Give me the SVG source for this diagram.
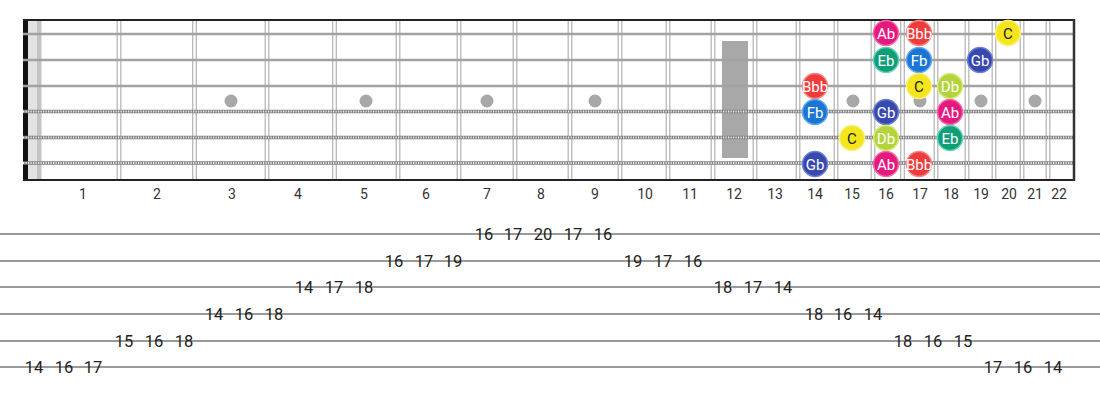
<svg xmlns="http://www.w3.org/2000/svg" width="1100" height="400" viewBox="0 0 1100 400">
<style>
.fret{stroke:#b8b8b8;stroke-width:1.3}
.plain{stroke:#a2a2a2;stroke-width:2.6}
.woundBase{stroke:#808080;stroke-width:3.6}
.woundTop{stroke:#ececec;stroke-width:1.8;stroke-dasharray:1.2 1.3}
.dot{fill:#a8a8a8}
.fn{font-family:Roboto,"Liberation Sans",sans-serif;font-size:14px;fill:#333;text-anchor:middle}
.nt{font-family:Roboto,"Liberation Sans",sans-serif;font-size:15px;fill:#fff;text-anchor:middle}
.ntd{fill:#222}
.tabline{stroke:#9a9a9a;stroke-width:2}
.tab{font-family:Roboto,"Liberation Sans",sans-serif;font-size:16.5px;fill:#222;text-anchor:middle}
.Ab{fill:#e6197f;stroke:#f26aa8;stroke-width:1.5}
.Bbb{fill:#ef3b3b;stroke:#f78585;stroke-width:1.5}
.Eb{fill:#0e9e78;stroke:#5fd3b2;stroke-width:1.5}
.Fb{fill:#1b75d3;stroke:#63a8ef;stroke-width:1.5}
.Gb{fill:#3749ae;stroke:#6d80d4;stroke-width:1.5}
.C{fill:#f4e51c;stroke:#faef7a;stroke-width:1.5}
.Db{fill:#b3d43a;stroke:#d6ec82;stroke-width:1.5}
</style>
<rect width="1100" height="400" fill="#fff"/>
<g id="fretboard">
<rect x="28" y="20" width="9" height="160" fill="#e2e2e2"/>
<rect x="37" y="20" width="4.5" height="160" fill="#c4c4c4"/>
<rect x="23" y="19" width="5" height="162" fill="#111"/>
<rect x="722" y="41" width="26" height="117" fill="#a8a8a8"/>
<g id="frets">
<line class="fret" x1="117.2" y1="20" x2="117.2" y2="180"/><line class="fret" x1="120.8" y1="20" x2="120.8" y2="180"/>
<line class="fret" x1="192.7" y1="20" x2="192.7" y2="180"/><line class="fret" x1="196.3" y1="20" x2="196.3" y2="180"/>
<line class="fret" x1="265.2" y1="20" x2="265.2" y2="180"/><line class="fret" x1="268.8" y1="20" x2="268.8" y2="180"/>
<line class="fret" x1="332.7" y1="20" x2="332.7" y2="180"/><line class="fret" x1="336.3" y1="20" x2="336.3" y2="180"/>
<line class="fret" x1="396.2" y1="20" x2="396.2" y2="180"/><line class="fret" x1="399.8" y1="20" x2="399.8" y2="180"/>
<line class="fret" x1="457.2" y1="20" x2="457.2" y2="180"/><line class="fret" x1="460.8" y1="20" x2="460.8" y2="180"/>
<line class="fret" x1="513.2" y1="20" x2="513.2" y2="180"/><line class="fret" x1="516.8" y1="20" x2="516.8" y2="180"/>
<line class="fret" x1="568.2" y1="20" x2="568.2" y2="180"/><line class="fret" x1="571.8" y1="20" x2="571.8" y2="180"/>
<line class="fret" x1="618.2" y1="20" x2="618.2" y2="180"/><line class="fret" x1="621.8" y1="20" x2="621.8" y2="180"/>
<line class="fret" x1="666.2" y1="20" x2="666.2" y2="180"/><line class="fret" x1="669.8" y1="20" x2="669.8" y2="180"/>
<line class="fret" x1="711.2" y1="20" x2="711.2" y2="180"/><line class="fret" x1="714.8" y1="20" x2="714.8" y2="180"/>
<line class="fret" x1="753.2" y1="20" x2="753.2" y2="180"/><line class="fret" x1="756.8" y1="20" x2="756.8" y2="180"/>
<line class="fret" x1="796.2" y1="20" x2="796.2" y2="180"/><line class="fret" x1="799.8" y1="20" x2="799.8" y2="180"/>
<line class="fret" x1="834.2" y1="20" x2="834.2" y2="180"/><line class="fret" x1="837.8" y1="20" x2="837.8" y2="180"/>
<line class="fret" x1="871.2" y1="20" x2="871.2" y2="180"/><line class="fret" x1="874.8" y1="20" x2="874.8" y2="180"/>
<line class="fret" x1="900.7" y1="20" x2="900.7" y2="180"/><line class="fret" x1="904.3" y1="20" x2="904.3" y2="180"/>
<line class="fret" x1="934.2" y1="20" x2="934.2" y2="180"/><line class="fret" x1="937.8" y1="20" x2="937.8" y2="180"/>
<line class="fret" x1="965.2" y1="20" x2="965.2" y2="180"/><line class="fret" x1="968.8" y1="20" x2="968.8" y2="180"/>
<line class="fret" x1="992.2" y1="20" x2="992.2" y2="180"/><line class="fret" x1="995.8" y1="20" x2="995.8" y2="180"/>
<line class="fret" x1="1020.2" y1="20" x2="1020.2" y2="180"/><line class="fret" x1="1023.8" y1="20" x2="1023.8" y2="180"/>
<line class="fret" x1="1046.2" y1="20" x2="1046.2" y2="180"/><line class="fret" x1="1049.8" y1="20" x2="1049.8" y2="180"/>
</g>
<g id="markers">
<circle class="dot" cx="231" cy="101" r="6.5"/>
<circle class="dot" cx="366" cy="101" r="6.5"/>
<circle class="dot" cx="487" cy="101" r="6.5"/>
<circle class="dot" cx="595" cy="101" r="6.5"/>
<circle class="dot" cx="853" cy="101" r="6.5"/>
<circle class="dot" cx="920" cy="101" r="6.5"/>
<circle class="dot" cx="981" cy="101" r="6.5"/>
<circle class="dot" cx="1035" cy="101" r="6.5"/>
</g>
<g id="strings">
<line class="plain" x1="23" y1="34" x2="1074" y2="34"/>
<line class="plain" x1="23" y1="60" x2="1074" y2="60"/>
<line class="plain" x1="23" y1="86" x2="1074" y2="86"/>
<line class="woundBase" x1="23" y1="111.5" x2="1074" y2="111.5"/><line class="woundTop" x1="23" y1="111.5" x2="1074" y2="111.5"/>
<line class="woundBase" x1="23" y1="137.5" x2="1074" y2="137.5"/><line class="woundTop" x1="23" y1="137.5" x2="1074" y2="137.5"/>
<line class="woundBase" x1="23" y1="163" x2="1074" y2="163"/><line class="woundTop" x1="23" y1="163" x2="1074" y2="163"/>
</g>
<line x1="23" y1="20" x2="1075" y2="20" stroke="#222" stroke-width="2"/>
<line x1="23" y1="180" x2="1075" y2="180" stroke="#222" stroke-width="2"/>
<line x1="1074" y1="19" x2="1074" y2="181" stroke="#333" stroke-width="2.5"/>
</g>
<g id="fret-numbers">
<text class="fn" x="83" y="199">1</text><text class="fn" x="157" y="199">2</text><text class="fn" x="232" y="199">3</text><text class="fn" x="298" y="199">4</text><text class="fn" x="364" y="199">5</text><text class="fn" x="426" y="199">6</text><text class="fn" x="487" y="199">7</text><text class="fn" x="541" y="199">8</text><text class="fn" x="595" y="199">9</text><text class="fn" x="645" y="199">10</text><text class="fn" x="690" y="199">11</text><text class="fn" x="734" y="199">12</text><text class="fn" x="775" y="199">13</text><text class="fn" x="815" y="199">14</text><text class="fn" x="852" y="199">15</text><text class="fn" x="886" y="199">16</text><text class="fn" x="920" y="199">17</text><text class="fn" x="951" y="199">18</text><text class="fn" x="981" y="199">19</text><text class="fn" x="1009" y="199">20</text><text class="fn" x="1035" y="199">21</text><text class="fn" x="1059" y="199">22</text>
</g>
<g id="notes">
<g id="n1-16"><circle class="Ab" cx="886" cy="33" r="12.5"/><text class="nt" x="886" y="38.5">Ab</text></g>
<g id="n1-17"><circle class="Bbb" cx="919" cy="33" r="12.5"/><text class="nt" x="919" y="38.5">Bbb</text></g>
<g id="n1-20"><circle class="C" cx="1008" cy="33" r="12.5"/><text class="nt ntd" x="1008" y="38.5">C</text></g>
<g id="n2-16"><circle class="Eb" cx="886" cy="60" r="12.5"/><text class="nt" x="886" y="65.5">Eb</text></g>
<g id="n2-17"><circle class="Fb" cx="919" cy="60" r="12.5"/><text class="nt" x="919" y="65.5">Fb</text></g>
<g id="n2-19"><circle class="Gb" cx="980" cy="60" r="12.5"/><text class="nt" x="980" y="65.5">Gb</text></g>
<g id="n3-14"><circle class="Bbb" cx="815" cy="86" r="12.5"/><text class="nt" x="815" y="91.5">Bbb</text></g>
<g id="n3-17"><circle class="C" cx="919" cy="86" r="12.5"/><text class="nt ntd" x="919" y="91.5">C</text></g>
<g id="n3-18"><circle class="Db" cx="950" cy="86" r="12.5"/><text class="nt" x="950" y="91.5">Db</text></g>
<g id="n4-14"><circle class="Fb" cx="815" cy="112" r="12.5"/><text class="nt" x="815" y="117.5">Fb</text></g>
<g id="n4-16"><circle class="Gb" cx="886" cy="112" r="12.5"/><text class="nt" x="886" y="117.5">Gb</text></g>
<g id="n4-18"><circle class="Ab" cx="950" cy="112" r="12.5"/><text class="nt" x="950" y="117.5">Ab</text></g>
<g id="n5-15"><circle class="C" cx="852" cy="138" r="12.5"/><text class="nt ntd" x="852" y="143.5">C</text></g>
<g id="n5-16"><circle class="Db" cx="886" cy="138" r="12.5"/><text class="nt" x="886" y="143.5">Db</text></g>
<g id="n5-18"><circle class="Eb" cx="950" cy="138" r="12.5"/><text class="nt" x="950" y="143.5">Eb</text></g>
<g id="n6-14"><circle class="Gb" cx="815" cy="164" r="12.5"/><text class="nt" x="815" y="169.5">Gb</text></g>
<g id="n6-16"><circle class="Ab" cx="886" cy="164" r="12.5"/><text class="nt" x="886" y="169.5">Ab</text></g>
<g id="n6-17"><circle class="Bbb" cx="919" cy="164" r="12.5"/><text class="nt" x="919" y="169.5">Bbb</text></g>
</g>
<g id="tab">
<line class="tabline" x1="0" y1="234" x2="1100" y2="234"/>
<line class="tabline" x1="0" y1="261" x2="1100" y2="261"/>
<line class="tabline" x1="0" y1="287" x2="1100" y2="287"/>
<line class="tabline" x1="0" y1="314" x2="1100" y2="314"/>
<line class="tabline" x1="0" y1="341" x2="1100" y2="341"/>
<line class="tabline" x1="0" y1="367" x2="1100" y2="367"/>
<text class="tab" x="34" y="373">14</text><text class="tab" x="64" y="373">16</text><text class="tab" x="93" y="373">17</text>
<text class="tab" x="124" y="347">15</text><text class="tab" x="154" y="347">16</text><text class="tab" x="184" y="347">18</text>
<text class="tab" x="214" y="320">14</text><text class="tab" x="244" y="320">16</text><text class="tab" x="274" y="320">18</text>
<text class="tab" x="304" y="293">14</text><text class="tab" x="334" y="293">17</text><text class="tab" x="364" y="293">18</text>
<text class="tab" x="394" y="267">16</text><text class="tab" x="424" y="267">17</text><text class="tab" x="453" y="267">19</text>
<text class="tab" x="484" y="240">16</text><text class="tab" x="513" y="240">17</text><text class="tab" x="543" y="240">20</text><text class="tab" x="573" y="240">17</text><text class="tab" x="603" y="240">16</text>
<text class="tab" x="633" y="267">19</text><text class="tab" x="663" y="267">17</text><text class="tab" x="693" y="267">16</text>
<text class="tab" x="723" y="293">18</text><text class="tab" x="753" y="293">17</text><text class="tab" x="783" y="293">14</text>
<text class="tab" x="814" y="320">18</text><text class="tab" x="843" y="320">16</text><text class="tab" x="873" y="320">14</text>
<text class="tab" x="903" y="347">18</text><text class="tab" x="933" y="347">16</text><text class="tab" x="963" y="347">15</text>
<text class="tab" x="993" y="373">17</text><text class="tab" x="1023" y="373">16</text><text class="tab" x="1053" y="373">14</text>
</g>
</svg>
